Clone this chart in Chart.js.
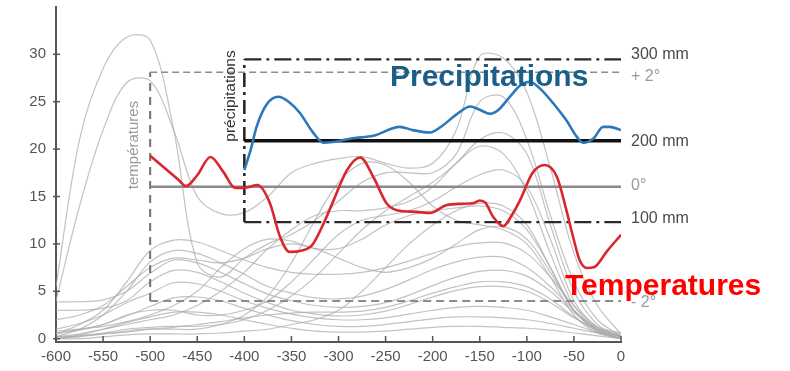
<!DOCTYPE html>
<html>
<head>
<meta charset="utf-8">
<script src="https://cdn.jsdelivr.net/npm/chart.js@4/dist/chart.umd.min.js"></script>
<style>
html,body{margin:0;padding:0;background:#fff;}
#wrap{width:790px;height:371px;position:relative;}
</style>
</head>
<body>
<div id="wrap"><canvas id="c"></canvas></div>
<script>
// ---- axes / ticks ----
const xTicks = [-600,-550,-500,-450,-400,-350,-300,-250,-200,-150,-100,-50,0];
const yTicks = [0,5,10,15,20,25,30];

// ---- background grey curves (left axis units) on a common x grid ----
const gx = [-600,-575,-550,-525,-500,-475,-450,-425,-400,-375,-350,-325,-300,-275,-250,-225,-200,-175,-150,-125,-100,-75,-50,-25,0];
const g1  = [5.5,21,28.5,31.8,31.5,22,8,6.5,8.5,10,11,12.5,14.5,16.5,17.5,17.5,17.5,19.5,25,25.5,21,13,6,2,0.3];
const g2  = [4,14,22,27,27.2,22,15,13.2,13.3,15,17.5,18.5,19,19.2,18.5,18,18.5,22,29.8,29.6,26,18,9,3.5,0.5];
const g3  = [0,0.3,0.6,1,1.2,1.3,1.3,1.5,2,3,4.5,6.5,9,11.5,13.5,15,16.5,18.5,21,21.7,19.5,12,5,1.5,0.2];
const g4  = [0.2,0.5,1,1.5,2,2.5,3.5,5,7,9.5,11.5,13,13.5,13.5,13.8,14.5,16,18.5,20.3,19.5,15.5,9,3.5,1,0];
const g5  = [0.6,1,1.5,2.5,3,3,2.5,2.5,3,4,6,8.5,11,12.5,13,13.5,14.5,16,17.3,17.8,16,10.5,4,1.2,0.2];
const g6  = [0,0,0.2,0.4,0.5,0.5,0.5,0.6,0.8,1,1.5,2,3,5,7.5,10,12,13.5,14.3,14,12,7.5,3,0.8,0];
const g7  = [0.5,1.5,3,6,9.3,10.4,10.2,9.3,8.3,7.5,7,6.8,6.8,7,7.5,8.2,9,9.7,10.1,10.1,9,6.5,3.5,1.2,0.3];
const g8  = [0.2,1,2.5,5,8.1,9.3,9,8,6.8,5.5,4.8,4.3,4.2,4.5,5.2,6.2,7.3,8.1,8.6,8.6,7.5,5.5,3,1,0.3];
const g9  = [3.9,3.9,4.1,5,6.9,8.3,8,7,5.8,4.7,4,3.5,3.3,3.4,3.8,4.6,5.6,6.5,7.1,7.2,6.6,5,2.8,1.2,0.6];
const g10 = [3,3,3.2,4,6,7.2,7,6,4.8,3.8,3,2.6,2.4,2.5,2.9,3.6,4.4,5.1,5.5,5.5,5,3.8,2.2,1,0.4];
const g11 = [1,1.6,2.5,3.8,4.8,5.9,5.8,5,4,3.2,2.6,2.2,2,2,2.2,2.6,3,3.3,3.4,3.3,3,2.3,1.5,0.7,0.3];
const g12 = [0.5,0.9,1.5,2.4,3.4,4.3,4.4,4,3.2,2.5,1.9,1.5,1.3,1.3,1.5,1.8,2.1,2.3,2.3,2.2,2,1.6,1.1,0.6,0.2];
const g13 = [0,0.4,1,1.7,2.3,2.8,2.8,2.5,2,1.5,1.1,0.8,0.7,0.7,0.8,1,1.2,1.3,1.3,1.2,1.1,0.9,0.6,0.3,0];
const g14 = [0.8,1,1.3,1.8,2.5,3.5,5,7.5,9.5,10.5,10.3,9.5,9.5,10.5,12,13,13.5,13.8,14,13.5,11.5,7.5,3,0.8,0];
const g15 = [0,0.2,0.5,0.8,1,1,1,1.5,2.5,4.5,8,12.5,16.5,18.5,18.3,16.5,14,12.5,12,11.5,10,6.5,2.5,0.6,0];
const g16 = [2,2.5,3.5,5.5,7.5,8.5,8.3,8,8.5,9.5,10,9.5,8.5,7.5,7,7.5,8.5,10,11.5,11.8,10.5,7,3,1,0.2];
const g17 = [0.2,0.3,0.5,0.7,1,1.2,1.5,1.8,2.2,2.5,2.7,2.8,2.8,2.9,3.3,4,4.8,5.5,6,6,5.5,4.2,2.3,0.8,0];
const greyCurves = [g1,g2,g3,g4,g5,g6,g7,g8,g9,g10,g11,g12,g13,g14,g15,g16,g17];

// ---- temperatures (°C anomaly) ----
const tempX = [-500,-485,-470,-462,-450,-436,-422,-410,-400,-386,-373,-362,-352,-340,-328,-316,-305,-291,-277,-263,-249,-238,-217,-203,-185,-170,-157,-150,-144,-136,-125,-116,-107,-94,-81,-68,-58,-51,-44,-36,-29,-15,0];
const tempV = [0.54,0.33,0.12,0.01,0.2,0.52,0.25,-0.02,-0.02,0.03,-0.28,-0.88,-1.14,-1.12,-1.02,-0.65,-0.23,0.29,0.51,0.17,-0.29,-0.41,-0.44,-0.46,-0.32,-0.3,-0.29,-0.24,-0.28,-0.52,-0.69,-0.5,-0.23,0.24,0.38,0.17,-0.41,-0.87,-1.28,-1.42,-1.41,-1.13,-0.84];

// ---- precipitations (mm) ----
const precX = [-400,-393,-387,-376,-364,-352,-341,-327,-316,-306,-285,-263,-235,-221,-203,-189,-175,-160,-150,-139,-130,-118,-107,-97,-86,-72,-58,-47,-40,-29,-19,-12,0];
const precV = [164,190,217,245,254,247,234,210,197.5,198.4,203,206,217,213,210,219,232,242,238,233,238,254,268,272.5,264,246,225,205,197.5,203,217,217,213];

// ---- reference frame values ----
const tempLevels = [2,0,-2];
const precLevels = [300,200,100];
const tempStart = -500, precStart = -400, endX = 0;

const pts = (xs, ys) => xs.map((x,i)=>({x:x,y:ys[i]}));

const datasets = [];
greyCurves.forEach(g => datasets.push({
  data: pts(gx,g), yAxisID:'y', borderColor:'rgba(170,170,170,0.72)', borderWidth:1.2,
  pointRadius:0, tension:0.35, order:3
}));
// temperature frame
datasets.push({data:[{x:tempStart,y:tempLevels[0]},{x:endX,y:tempLevels[0]}], yAxisID:'yT', borderColor:'#8c8c8c', borderWidth:1.6, borderDash:[7,4], pointRadius:0, order:2});
datasets.push({data:[{x:tempStart,y:tempLevels[1]},{x:endX,y:tempLevels[1]}], yAxisID:'yT', borderColor:'#8a8a8a', borderWidth:2.5, pointRadius:0, order:2});
datasets.push({data:[{x:tempStart,y:tempLevels[2]},{x:endX,y:tempLevels[2]}], yAxisID:'yT', borderColor:'#8c8c8c', borderWidth:2, borderDash:[8,5], pointRadius:0, order:2});
datasets.push({data:[{x:tempStart,y:tempLevels[2]},{x:tempStart,y:tempLevels[0]}], yAxisID:'yT', borderColor:'#707070', borderWidth:2, borderDash:[8,6], pointRadius:0, order:2});
// precipitation frame
datasets.push({data:[{x:precStart,y:precLevels[0]},{x:endX,y:precLevels[0]}], yAxisID:'yP', borderColor:'#2a2a2a', borderWidth:2.2, borderDash:[17,5,3,5], pointRadius:0, order:1});
datasets.push({data:[{x:precStart,y:precLevels[1]},{x:endX,y:precLevels[1]}], yAxisID:'yP', borderColor:'#111', borderWidth:3.5, pointRadius:0, order:1});
datasets.push({data:[{x:precStart,y:precLevels[2]},{x:endX,y:precLevels[2]}], yAxisID:'yP', borderColor:'#2a2a2a', borderWidth:2.2, borderDash:[17,5,3,5], pointRadius:0, order:1});
datasets.push({data:[{x:precStart,y:precLevels[2]},{x:precStart,y:precLevels[0]}], yAxisID:'yP', borderColor:'#222', borderWidth:2.5, borderDash:[14,5,3,5], pointRadius:0, order:1});
// series
datasets.push({data:pts(tempX,tempV), yAxisID:'yT', borderColor:'#d9262f', borderWidth:2.6, pointRadius:0, cubicInterpolationMode:'monotone', order:0});
datasets.push({data:pts(precX,precV), yAxisID:'yP', borderColor:'#2b78bb', borderWidth:2.6, pointRadius:0, cubicInterpolationMode:'monotone', order:0});

const FONT = '"Liberation Sans", Arial, sans-serif';

const deco = {
  id:'deco',
  afterDraw(chart){
    const ctx = chart.ctx, x = chart.scales.x, y = chart.scales.y, yT = chart.scales.yT, yP = chart.scales.yP;
    const bottom = chart.chartArea.bottom, left = chart.chartArea.left;
    ctx.save();
    ctx.strokeStyle = '#555'; ctx.lineWidth = 1.5;
    yTicks.forEach(v => { const py = y.getPixelForValue(v); ctx.beginPath(); ctx.moveTo(left-3, py); ctx.lineTo(left+4, py); ctx.stroke(); });
    xTicks.forEach(v => { const px = x.getPixelForValue(v); ctx.beginPath(); ctx.moveTo(px, bottom); ctx.lineTo(px, bottom-6); ctx.stroke(); });

    // right-hand labels
    ctx.textBaseline = 'middle'; ctx.textAlign = 'left';
    ctx.font = '16px ' + FONT;
    const lx = 631;
    ctx.fillStyle = '#4a4a4a';
    ctx.fillText(precLevels[0] + ' mm', lx, yP.getPixelForValue(precLevels[0]) - 5);
    ctx.fillText(precLevels[1] + ' mm', lx, yP.getPixelForValue(precLevels[1]) + 0.5);
    ctx.fillText(precLevels[2] + ' mm', lx, yP.getPixelForValue(precLevels[2]) - 4);
    ctx.fillStyle = '#9a9a9a';
    ctx.fillText('+ 2°', lx, yT.getPixelForValue(tempLevels[0]) + 4);
    ctx.fillText('0°', lx, yT.getPixelForValue(tempLevels[1]) - 1.5);
    ctx.fillText('- 2°', lx, yT.getPixelForValue(tempLevels[2]) + 1);

    // rotated axis captions
    ctx.save();
    ctx.translate(134, 145); ctx.rotate(-Math.PI/2);
    ctx.textAlign = 'center'; ctx.fillStyle = '#9a9a9a'; ctx.font = '15px ' + FONT;
    ctx.fillText('températures', 0, 0);
    ctx.restore();
    ctx.save();
    ctx.translate(231, 96); ctx.rotate(-Math.PI/2);
    ctx.textAlign = 'center'; ctx.fillStyle = '#333'; ctx.font = '15.5px ' + FONT;
    ctx.fillText('précipitations', 0, 0);
    ctx.restore();

    // titles
    ctx.textBaseline = 'alphabetic'; ctx.textAlign = 'left';
    ctx.font = 'bold 30px ' + FONT;
    ctx.fillStyle = '#1b5f88';
    ctx.fillText('Precipitations', 390, 86);
    ctx.fillStyle = '#ff0000';
    ctx.fillText('Temperatures', 565, 295);
    ctx.restore();
  }
};

new Chart(document.getElementById('c'), {
  type:'line',
  data:{datasets},
  options:{
    responsive:true, maintainAspectRatio:false, animation:false,
    layout:{padding:{left:0, top:7, right:169, bottom:0}},
    plugins:{legend:{display:false}, tooltip:{enabled:false}},
    scales:{
      x:{type:'linear', min:-600, max:0,
         afterBuildTicks:s=>{s.ticks = xTicks.map(v=>({value:v}));},
         afterFit:s=>{s.height = 29; s.paddingLeft = 0; s.paddingRight = 0;},
         grid:{display:false, drawTicks:false},
         border:{display:true, color:'#555', width:2},
         ticks:{padding:6, color:'#555', font:{family:FONT, size:15}, maxRotation:0, autoSkip:false}},
      y:{type:'linear', min:-0.348, max:34.99,
         afterBuildTicks:s=>{s.ticks = yTicks.map(v=>({value:v}));},
         afterFit:s=>{s.width = 56; s.paddingTop = 0; s.paddingBottom = 0;},
         grid:{display:false, drawTicks:false},
         border:{display:true, color:'#555', width:2},
         ticks:{padding:10, color:'#555', font:{family:FONT, size:15}}},
      yT:{type:'linear', display:false, min:-2.715, max:3.1416},
      yP:{type:'linear', display:false, min:-47.3, max:364.25}
    }
  },
  plugins:[deco]
});
</script>
</body>
</html>
